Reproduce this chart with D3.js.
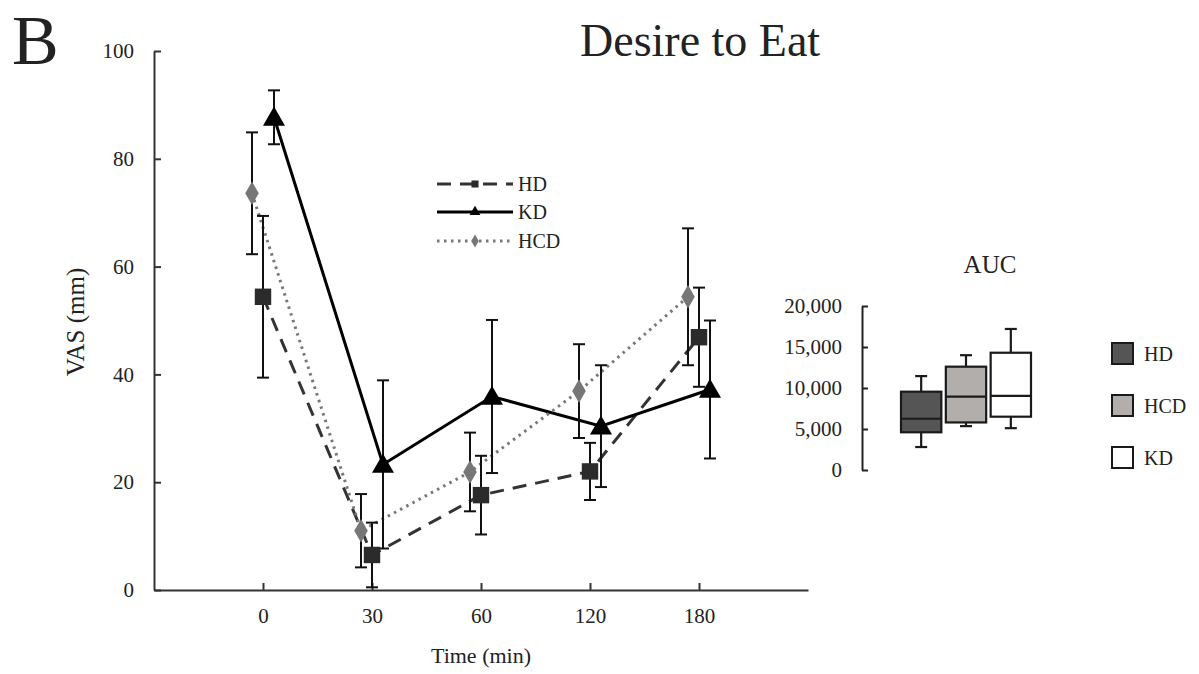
<!DOCTYPE html>
<html>
<head>
<meta charset="utf-8">
<script src="https://cdn.jsdelivr.net/npm/d3@7"></script>
<style>
  body { margin: 0; background: #fff; }
  svg text { font-family: "Liberation Serif", "Times New Roman", serif; fill: #222; }
</style>
</head>
<body>
<div id="chart"></div>
<script>
// time points (categories)
var times = ["0", "30", "60", "120", "180"];

// mean VAS and error (mm) per diet
var hdMean  = [54.4, 6.5, 17.6, 22.0, 46.9];
var hdErr   = [15.0, 6.0, 7.3, 5.3, 9.2];
var kdMean  = [87.7, 23.3, 35.9, 30.4, 37.2];
var kdErr   = [5.0, 15.6, 14.2, 11.3, 12.8];
var hcdMean = [73.6, 11.0, 21.9, 36.9, 54.4];
var hcdErr  = [11.3, 6.8, 7.3, 8.7, 12.7];

// AUC box plot
var aucGroups  = ["HD", "HCD", "KD"];
var aucLow     = [2800, 5350, 5100];
var aucQ1      = [4600, 5800, 6500];
var aucMedian  = [6250, 8950, 9050];
var aucQ3      = [9550, 12600, 14300];
var aucHigh    = [11450, 14000, 17200];
var aucTicks   = [0, 5000, 10000, 15000, 20000];

var width = 1199, height = 674;
var svg = d3.select("#chart").append("svg")
    .attr("width", width)
    .attr("height", height);

// ---- main chart ----
var xScale = d3.scalePoint().domain(times).range([154, 808]).padding(1);
var yScale = d3.scaleLinear().domain([0, 100]).range([590, 51]);

var xAxis = d3.axisBottom(xScale).tickSize(-7).tickSizeOuter(0).tickPadding(18);
var yAxis = d3.axisLeft(yScale).tickValues([0, 20, 40, 60, 80, 100]).tickSize(-7).tickSizeOuter(0).tickPadding(20);

var xAxisG = svg.append("g").attr("transform", "translate(0,590)").call(xAxis);
var yAxisG = svg.append("g").attr("transform", "translate(154,0)").call(yAxis);
[xAxisG, yAxisG].forEach(function (g) {
    g.attr("font-family", "Liberation Serif");
    g.selectAll("path, line").attr("stroke", "#333").attr("stroke-width", 2);
    g.selectAll("text").attr("font-size", 21).attr("fill", "#222");
});

var series = [
    { name: "HD",  mean: hdMean,  err: hdErr,  dx: 0,   color: "#333", dash: "14,9", marker: "square" },
    { name: "KD",  mean: kdMean,  err: kdErr,  dx: 11,  color: "#000", dash: null,   marker: "triangle" },
    { name: "HCD", mean: hcdMean, err: hcdErr, dx: -11, color: "#777", dash: "2.5,4.5", marker: "diamond" }
];

function symbolFor(m, size) {
    var t = m === "square" ? d3.symbolSquare : (m === "triangle" ? d3.symbolTriangle : d3.symbolDiamond);
    return d3.symbol().type(t).size(size)();
}

var line = d3.line()
    .x(function (d) { return d.x; })
    .y(function (d) { return d.y; });

// lines first, error bars, then markers
series.forEach(function (s) {
    var pts = times.map(function (t, i) {
        return { x: xScale(t) + s.dx, y: yScale(s.mean[i]) };
    });
    svg.append("path")
        .attr("d", line(pts))
        .attr("fill", "none")
        .attr("stroke", s.color)
        .attr("stroke-width", 3)
        .attr("stroke-dasharray", s.dash);
});

series.forEach(function (s) {
    var eb = svg.append("g").attr("stroke", "#111").attr("stroke-width", 2);
    times.forEach(function (t, i) {
        var x = xScale(t) + s.dx;
        var y1 = yScale(s.mean[i] + s.err[i]), y0 = yScale(Math.max(0, s.mean[i] - s.err[i]));
        eb.append("line").attr("x1", x).attr("x2", x).attr("y1", y1).attr("y2", y0);
        eb.append("line").attr("x1", x - 6).attr("x2", x + 6).attr("y1", y1).attr("y2", y1);
        eb.append("line").attr("x1", x - 6).attr("x2", x + 6).attr("y1", y0).attr("y2", y0);
    });
});

series.forEach(function (s) {
    svg.append("g").selectAll("path")
        .data(s.mean)
        .enter()
        .append("path")
        .attr("d", symbolFor(s.marker, s.marker === "diamond" ? 160 : (s.marker === "triangle" ? 210 : 270)))
        .attr("transform", function (d, i) {
            return "translate(" + (xScale(times[i]) + s.dx) + "," + (yScale(d) + (s.marker === "triangle" ? 2 : 0)) + ")";
        })
        .attr("fill", s.marker === "square" ? "#2b2b2b" : s.color);
});

// legend in plot
var legY = [184, 212, 241];
series.forEach(function (s, i) {
    var lg = svg.append("g").attr("transform", "translate(0," + legY[i] + ")");
    lg.append("line").attr("x1", 437).attr("x2", 513).attr("y1", 0).attr("y2", 0)
        .attr("stroke", s.color).attr("stroke-width", 3).attr("stroke-dasharray", s.dash);
    lg.append("path").attr("d", symbolFor(s.marker, 50))
        .attr("transform", "translate(475,0)").attr("fill", s.marker === "square" ? "#2b2b2b" : s.color);
    lg.append("text").attr("x", 518).attr("y", 7).attr("font-size", 20).text(s.name);
});

// titles
svg.append("text").attr("x", 12).attr("y", 64).attr("font-size", 70).text("B");
svg.append("text").attr("x", 580).attr("y", 56).attr("font-size", 46).text("Desire to Eat");
svg.append("text").attr("transform", "translate(84,322) rotate(-90)")
    .attr("text-anchor", "middle").attr("font-size", 25).text("VAS (mm)");
svg.append("text").attr("x", 481).attr("y", 663).attr("text-anchor", "middle")
    .attr("font-size", 22).text("Time (min)");

// ---- AUC box plot ----
var bx = d3.scaleBand().domain(aucGroups).range([901, 1031]).paddingInner(0.1);
var by = d3.scaleLinear().domain([0, 20000]).range([470, 306]);
var boxFill = ["#555555", "#b1aeac", "#ffffff"];

var aucAxisG = svg.append("g").attr("transform", "translate(862,0)")
    .call(d3.axisLeft(by).tickValues(aucTicks).tickFormat(d3.format(",")).tickSize(-6).tickSizeOuter(0).tickPadding(20));
aucAxisG.attr("font-family", "Liberation Serif");
aucAxisG.selectAll("path, line").attr("stroke", "#222").attr("stroke-width", 2);
aucAxisG.selectAll("text").attr("font-size", 21).attr("fill", "#222");

svg.append("text").attr("x", 990).attr("y", 273).attr("text-anchor", "middle")
    .attr("font-size", 25).text("AUC");

aucGroups.forEach(function (g, i) {
    var x0 = bx(g), w = bx.bandwidth(), cx = x0 + w / 2;
    var bg = svg.append("g").attr("stroke", "#1a1a1a").attr("stroke-width", 2.2);
    bg.append("line").attr("x1", cx).attr("x2", cx).attr("y1", by(aucHigh[i])).attr("y2", by(aucQ3[i]));
    bg.append("line").attr("x1", cx).attr("x2", cx).attr("y1", by(aucQ1[i])).attr("y2", by(aucLow[i]));
    bg.append("line").attr("x1", cx - 6).attr("x2", cx + 6).attr("y1", by(aucHigh[i])).attr("y2", by(aucHigh[i]));
    bg.append("line").attr("x1", cx - 6).attr("x2", cx + 6).attr("y1", by(aucLow[i])).attr("y2", by(aucLow[i]));
    bg.append("rect").attr("x", x0).attr("width", w)
        .attr("y", by(aucQ3[i])).attr("height", by(aucQ1[i]) - by(aucQ3[i]))
        .attr("fill", boxFill[i]);
    bg.append("line").attr("x1", x0).attr("x2", x0 + w).attr("y1", by(aucMedian[i])).attr("y2", by(aucMedian[i]));
});

// AUC legend
var aucLegY = [354, 406, 458];
aucGroups.forEach(function (g, i) {
    svg.append("rect").attr("x", 1112).attr("y", aucLegY[i] - 11).attr("width", 21).attr("height", 21)
        .attr("fill", boxFill[i]).attr("stroke", "#1a1a1a").attr("stroke-width", 2);
    svg.append("text").attr("x", 1144).attr("y", aucLegY[i] + 7).attr("font-size", 20).text(g);
});
</script>
</body>
</html>
